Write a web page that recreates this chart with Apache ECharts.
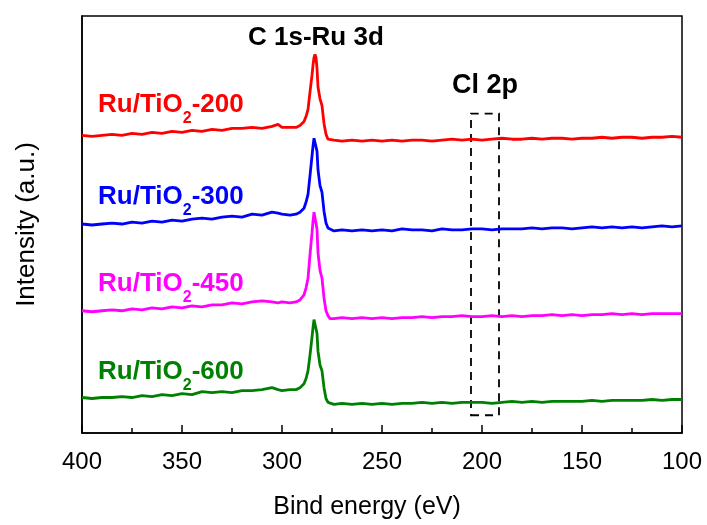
<!DOCTYPE html>
<html><head><meta charset="utf-8">
<script src="https://cdn.jsdelivr.net/npm/echarts@6/dist/echarts.min.js"></script>
<style>html,body{margin:0;padding:0;background:#fff}#c{width:707px;height:525px}</style>
</head><body><div id="c"></div>
<script>
// Binding energies (eV)
var energy = [400,395,390,385,380,375,370,365,360,355,350,345,340,335,330,325,320,315,310,305,302,300,296,293,291,289,288,287,286,285,284.5,284,283.5,283,282.5,282,281,280,279,278,277,276,274,270,265,260,255,250,245,240,235,230,225,220,215,210,205,200,195,190,185,180,175,170,165,160,155,150,145,140,135,130,125,120,115,110,105,100];
// Intensities (a.u., stacked with offsets as plotted)
var ru200 = [302,301,302,303,302,304,303,305,304,306,305,307,306,308,307,309,309,310,309,311,313,310,310,310,312,316,321,328,346,363,373,381,384,381,370,351,339,332,314,303,298,296,297,296,297,296,297,296,297,296,297,297,296,297,298,297,298,297,298,299,298,298,299,298,299,299,298,299,299,300,299,300,300,299,300,300,301,300];
var ru300 = [212,211,212,213,212,214,213,215,214,216,215,217,218,217,219,220,219,222,221,224,223,222,221,222,224,228,234,242,261,281,291,299,301,298,286,267,251,244,225,213,208,206,205,206,205,206,205,206,205,207,206,206,205,207,206,206,207,207,206,207,207,207,208,207,208,208,207,208,209,208,209,208,209,208,209,210,209,210];
var ru450 = [124,123,124,125,124,126,125,127,126,128,127,129,128,130,130,132,131,133,134,133,132,133,132,133,135,140,147,157,181,203,215,224,226,223,207,183,165,157,137,124,119,116,116,117,116,117,116,117,116,117,117,118,117,118,118,119,118,118,119,118,119,118,119,119,120,119,120,119,120,120,121,120,121,120,121,121,121,121];
var ru600 = [36,35,36,36,37,36,38,37,39,38,40,39,42,41,42,41,43,43,44,46,44,43,44,44,46,50,55,63,79,97,107,115,117,114,101,83,69,63,46,35,31,30,29,30,29,30,29,30,29,30,30,31,30,31,30,31,31,31,30,31,32,31,32,31,32,32,32,32,33,32,33,33,33,33,34,33,34,34];
var seriesNames = ['Ru/TiO2-200','Ru/TiO2-300','Ru/TiO2-450','Ru/TiO2-600'];
var xTicks = [400,350,300,250,200,150,100];
// Cl 2p highlight window: energy range and intensity range
var clBoxEnergy = [205.5, 191.5];
var clBoxIntensity = [18, 324];

var colors = ['#ff0000','#0000ff','#ff00ff','#008000'];
var allData = [ru200, ru300, ru450, ru600];
function pairs(v){ return energy.map(function(e,i){ return [e, v[i]]; }); }

var chart = echarts.init(document.getElementById('c'));
var series = allData.map(function(v,i){
  return {
    name: seriesNames[i], type:'line', data: pairs(v), showSymbol:false, symbol:'none',
    lineStyle:{color:colors[i], width:2.8}, itemStyle:{color:colors[i]}, smooth:false, z:3
  };
});
series[0].markArea = {
  silent:true,
  itemStyle:{color:'rgba(0,0,0,0)', borderColor:'#000', borderWidth:1.8, borderType:[8,6]},
  data:[[{xAxis:clBoxEnergy[0], yAxis:clBoxIntensity[0]},{xAxis:clBoxEnergy[1], yAxis:clBoxIntensity[1]}]]
};

var FF = 'Liberation Sans, Arial, sans-serif';
function lab(name, col, x, y){
  var idx = name.indexOf('2');
  return {type:'text', left:x, top:y, z:10, style:{
    text:'{a|'+name.slice(0,idx)+'}{s|2}{a|'+name.slice(idx+1)+'}{z| }',
    rich:{
      a:{fontSize:26, fontWeight:'bold', fontFamily:FF, fill:col, color:col, lineHeight:30, verticalAlign:'top'},
      s:{fontSize:16, fontWeight:'bold', fontFamily:FF, fill:col, color:col, lineHeight:14, verticalAlign:'bottom'},
      z:{fontSize:1, lineHeight:35, fill:col, color:col}
    }
  }};
}

chart.setOption({
  animation:false,
  backgroundColor:'#fff',
  grid:{left:82, right:25, top:16, bottom:86, show:true, borderColor:'#000', borderWidth:1.5, backgroundColor:'transparent'},
  xAxis:{
    type:'value', inverse:true, min:100, max:400, interval:50,
    name:'Bind energy (eV)', nameLocation:'middle', nameGap:62,
    nameTextStyle:{fontSize:25, color:'#000', fontFamily:FF, padding:[0,30,0,0]},
    axisLine:{show:true, lineStyle:{color:'#000', width:1.5}},
    axisTick:{show:true, inside:true, length:8, lineStyle:{color:'#000', width:1.5}},
    minorTick:{show:true, splitNumber:2, length:5, lineStyle:{color:'#000', width:1.5}},
    splitLine:{show:false},
    axisLabel:{fontSize:24, color:'#000', margin:17, fontFamily:FF,
      formatter:function(v){ return xTicks.indexOf(v)>=0 ? String(v) : ''; }}
  },
  yAxis:{
    type:'value', min:0, max:423,
    name:'Intensity (a.u.)', nameLocation:'middle', nameGap:42, nameRotate:90,
    nameTextStyle:{fontSize:26, color:'#000', fontFamily:FF},
    axisLine:{show:true, lineStyle:{color:'#000', width:1.5}},
    axisTick:{show:false}, axisLabel:{show:false}, splitLine:{show:false}
  },
  series: series,
  graphic:[
    {type:'text', left:248, top:25, z:10, style:{text:'C 1s-Ru 3d', font:'bold 26px "Liberation Sans", Arial, sans-serif', fill:'#000'}},
    {type:'text', left:452, top:72, z:10, style:{text:'Cl 2p', font:'bold 27px "Liberation Sans", Arial, sans-serif', fill:'#000'}},
    lab(seriesNames[0], colors[0], 98, 92),
    lab(seriesNames[1], colors[1], 98, 184),
    lab(seriesNames[2], colors[2], 98, 271),
    lab(seriesNames[3], colors[3], 98, 359)
  ]
});
</script></body></html>
